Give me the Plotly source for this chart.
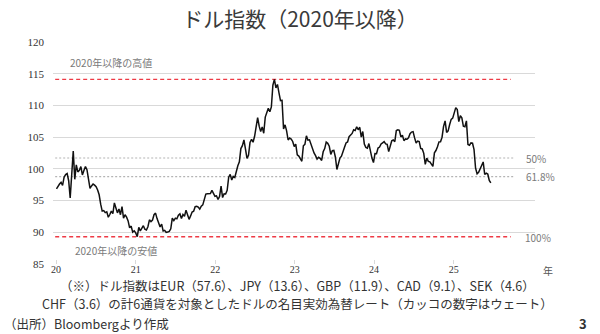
import pandas as pd
import plotly.graph_objects as go

# Weekly US dollar index (DXY), Friday values
dxy_2020 = [96.84, 97.36, 97.61, 97.87, 97.39, 98.69, 99.10, 99.26, 98.13, 95.40,
            98.75, 102.82, 98.35, 100.63, 99.52, 99.77, 100.37, 99.05, 99.74, 100.38,
            99.86, 98.34, 96.94, 97.31, 97.62, 97.43, 97.18, 96.66, 95.91, 94.43,
            93.35, 93.43, 93.10, 93.22, 92.37, 92.80, 93.33, 92.93, 94.64, 93.84,
            93.06, 93.68, 92.77, 94.03, 92.23, 92.76, 92.39, 91.79, 90.70, 90.98,
            90.02, 90.24]
dxy_2021 = [89.90, 89.30, 90.77, 90.22, 90.58, 91.04, 90.48, 90.36, 90.88, 91.97,
            91.67, 91.92, 92.77, 93.02, 92.16, 91.56, 90.85, 91.28, 90.22, 90.31,
            89.99, 90.03, 90.13, 90.55, 92.23, 91.85, 92.23, 92.12, 92.68, 92.90,
            92.17, 92.80, 92.52, 93.49, 92.69, 92.04, 92.58, 93.20, 93.33, 94.04,
            94.09, 93.96, 93.64, 94.12, 94.32, 95.12, 96.03, 96.09, 96.15, 96.11,
            96.60, 96.01, 95.67]
dxy_2022 = [95.75, 95.18, 95.64, 97.27, 95.47, 96.07, 96.04, 96.61, 98.68, 99.13,
            98.23, 98.80, 98.63, 99.84, 100.50, 101.12, 103.20, 103.66, 104.56, 103.15,
            101.66, 102.14, 104.15, 104.66, 104.20, 105.14, 107.01, 108.07, 106.73, 105.90,
            106.62, 105.62, 108.16, 108.80, 109.54, 109.00, 109.76, 113.19, 114.10, 112.76,
            113.31, 111.99, 110.76, 110.80, 106.29, 106.94, 106.00, 104.55, 104.87, 104.70,
            104.32, 103.52]
dxy_2023 = [103.89, 102.20, 102.02, 101.60, 101.20, 103.63, 103.86, 105.21, 104.52, 104.58,
            103.86, 103.12, 102.51, 102.09, 101.55, 101.82, 101.66, 101.32, 102.69, 103.20,
            104.21, 104.03, 103.56, 102.27, 102.87, 102.91, 101.87, 99.91, 101.07, 101.69,
            101.99, 102.84, 103.42, 104.09, 104.24, 105.07, 105.32, 105.58, 106.17, 106.04,
            106.64, 106.16, 106.56, 105.02, 105.88, 103.91, 103.39, 103.27, 103.99, 102.58,
            101.70, 101.00]
dxy_2024 = [102.41, 102.40, 103.29, 103.44, 103.92, 104.11, 104.29, 103.94, 103.86, 102.71,
            103.44, 104.43, 104.55, 104.29, 106.04, 106.15, 106.08, 105.03, 105.30, 104.45,
            104.72, 104.67, 104.89, 105.55, 105.80, 105.87, 104.88, 104.09, 104.38, 104.31,
            103.21, 103.14, 102.45, 100.72, 101.70, 101.18, 101.11, 100.72, 100.38, 102.52,
            102.89, 103.49, 104.26, 104.28, 104.99, 106.69, 107.55, 105.74, 105.99, 106.99,
            107.81, 108.00]
dxy_2025 = [108.92, 109.65, 109.35, 107.44, 108.37, 108.04, 106.71, 106.63, 107.56, 103.84,
            103.72, 104.09, 104.04, 103.02, 100.10, 99.23, 99.47, 100.03, 100.42, 101.09,
            99.11, 99.33, 99.19, 98.18, 97.80]

first_fridays = ["2020-01-03", "2021-01-01", "2022-01-07", "2023-01-06", "2024-01-05", "2025-01-03"]
yearly = [dxy_2020, dxy_2021, dxy_2022, dxy_2023, dxy_2024, dxy_2025]

dates, values = [], []
for start, vals in zip(first_fridays, yearly):
    dates += list(pd.date_range(start=start, periods=len(vals), freq="W-FRI"))
    values += vals

year_ticks = ["2020-01-01", "2021-01-01", "2022-01-01", "2023-01-01", "2024-01-01", "2025-01-01"]
year_labels = ["20", "21", "22", "23", "24", "25"]
y_ticks = [85, 90, 95, 100, 105, 110, 115, 120]

# Extremes since 2020 and Fibonacci retracement levels
high = max(values)
low = min(values)
level_50 = high - 0.5 * (high - low)
level_618 = high - 0.618 * (high - low)

X_RANGE = ["2019-12-18", "2026-01-09"]
REF_START = "2019-12-28"
RED_END = "2025-09-20"
GRAY_END = "2025-10-05"

fig = go.Figure()

# reference levels
for y, color, dash, end, w in [
    (high, "#ee3a45", "4px,3px", RED_END, 1.4),
    (low, "#ee3a45", "4px,3px", RED_END, 1.4),
    (level_50, "#b4b4b4", "2px,2px", GRAY_END, 1.1),
    (level_618, "#b4b4b4", "2px,2px", GRAY_END, 1.1),
]:
    fig.add_trace(go.Scatter(
        x=[REF_START, end], y=[y, y], mode="lines",
        line=dict(color=color, width=w, dash=dash),
        hoverinfo="skip", showlegend=False,
    ))

fig.add_trace(go.Scatter(
    x=dates, y=values, mode="lines",
    line=dict(color="#111111", width=1.5),
    showlegend=False, name="ドル指数",
))

jp = "Noto Sans CJK JP"
small = dict(family=jp, size=10, color="#7a7a7a")
note = dict(family=jp, size=12.5, color="#333333")

ann = [
    dict(x=0.032, y=high, yref="y", text="2020年以降の高値", xanchor="left", yanchor="bottom",
         yshift=7, font=small),
    dict(x=0.042, y=low, yref="y", text="2020年以降の安値", xanchor="left", yanchor="top",
         yshift=-4, font=small),
    dict(x=0.978, y=level_50, yref="y", text="50%", xanchor="left", font=small),
    dict(x=0.978, y=level_618, yref="y", text="61.8%", xanchor="left", font=small),
    dict(x=0.976, y=low, yref="y", text="100%", xanchor="left", yshift=-1, font=small),
    dict(x=1.026, y=-0.03, text="年", xanchor="center", font=dict(family=jp, size=10, color="#555555")),
    dict(x=0.508, y=-0.099,
         text="（※）ドル指数はEUR（57.6）、JPY（13.6）、GBP（11.9）、CAD（9.1）、SEK（4.6）",
         xanchor="center", borderpad=0, font=note),
    dict(x=0.508, y=-0.178,
         text="CHF（3.6）の計6通貨を対象としたドルの名目実効為替レート（カッコの数字はウェート）",
         xanchor="center", borderpad=0, font=note),
    dict(x=-0.104, y=-0.266, text="（出所）Bloombergより作成", xanchor="left", borderpad=0, font=note),
    dict(x=1.1, y=-0.266, text="<b>3</b>", xanchor="center", borderpad=0,
         font=dict(family=jp, size=13, color="#333333")),
]
for a in ann:
    a.setdefault("xref", "paper")
    a.setdefault("yref", "paper")
    a.setdefault("yanchor", "middle")
    a["showarrow"] = False
    fig.add_annotation(**a)

fig.update_layout(
    width=600, height=334,
    margin=dict(l=53, r=65, t=42, b=70),
    paper_bgcolor="white", plot_bgcolor="white",
    title=dict(text="ドル指数（2020年以降）", x=0.5, xanchor="center", y=0.94, yanchor="middle",
               font=dict(family=jp, size=21, color="#3a3a3a")),
    xaxis=dict(
        type="date", range=X_RANGE, tickvals=year_ticks, ticktext=year_labels,
        showgrid=False, showline=False, zeroline=False,
        ticks="inside", ticklen=4, tickcolor="#d9d9d9",
        tickfont=dict(family="Liberation Serif", size=10, color="#333333"),
        ticklabelstandoff=-2,
    ),
    yaxis=dict(
        range=[85, 120], tickvals=y_ticks, showgrid=True, gridcolor="#d9d9d9", gridwidth=1,
        zeroline=False, showline=False,
        tickfont=dict(family="Liberation Serif", size=11, color="#333333"),
        ticklabelstandoff=8,
    ),
)

fig.write_html("out.html")
